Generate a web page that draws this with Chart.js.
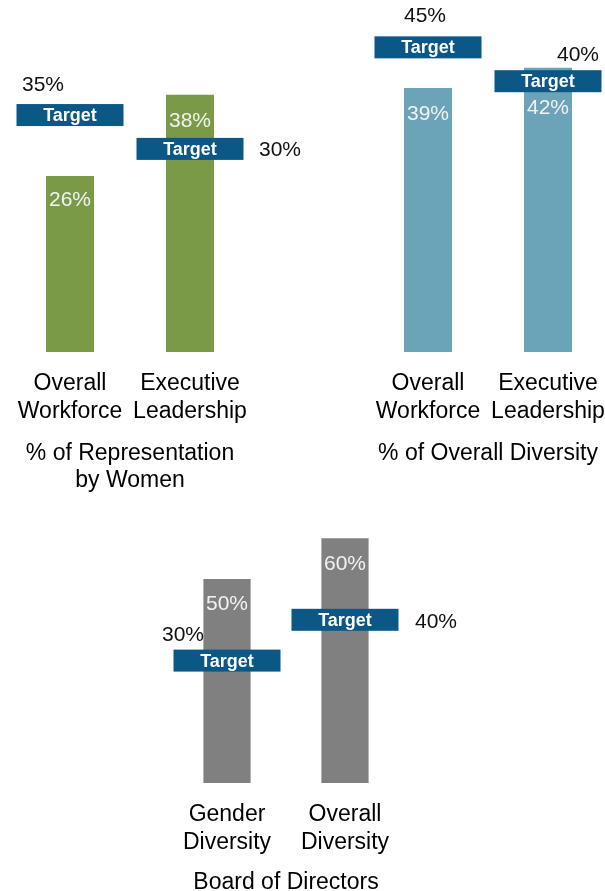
<!DOCTYPE html>
<html>
<head>
<meta charset="utf-8">
<script src="https://cdn.jsdelivr.net/npm/chart.js@4.4.1/dist/chart.umd.min.js"></script>
<style>
  html, body { margin: 0; padding: 0; background: #fff; overflow: hidden; }
  #page { position: relative; width: 605px; height: 891px; overflow: hidden; }
  canvas { position: absolute; }
</style>
</head>
<body>
<div id="page">
  <canvas id="womenChart" width="340" height="500" style="left:-30px;top:0;width:340px;height:500px"></canvas>
  <canvas id="diversityChart" width="338" height="500" style="left:300px;top:0;width:338px;height:500px"></canvas>
  <canvas id="boardChart" width="350" height="410" style="left:130px;top:490px;width:350px;height:410px"></canvas>
</div>
<script>
// % of representation by women
const womenLabels = [['Overall', 'Workforce'], ['Executive', 'Leadership']];
const womenValues = [26, 38];
const womenTargets = [35, 30];
const womenTitle = ['% of Representation', 'by Women'];

// % of overall diversity
const diversityLabels = [['Overall', 'Workforce'], ['Executive', 'Leadership']];
const diversityValues = [39, 42];
const diversityTargets = [45, 40];
const diversityTitle = '% of Overall Diversity';

// board of directors
const boardLabels = [['Gender', 'Diversity'], ['Overall', 'Diversity']];
const boardValues = [50, 60];
const boardTargets = [30, 40];
const boardTitle = 'Board of Directors';

const FONT = '"Liberation Sans", Arial, sans-serif';

// draws the % inside each bar and the "Target" tags with their values
const targetMarks = {
  id: 'targetMarks',
  afterDatasetsDraw(chart, args, opts) {
    const ctx = chart.ctx;
    const xs = chart.scales.x;
    const ys = chart.scales.y;
    const meta = chart.getDatasetMeta(0);
    const values = chart.data.datasets[0].data;

    ctx.save();
    ctx.textAlign = 'center';
    ctx.textBaseline = 'middle';

    ctx.font = `21px ${FONT}`;
    ctx.fillStyle = '#f2f2f2';
    meta.data.forEach((bar, i) => {
      ctx.fillText(`${values[i]}%`, bar.x, bar.y + opts.valueOffsets[i]);
    });

    opts.targets.forEach((t, i) => {
      const cx = xs.getPixelForValue(i);
      const cy = ys.getPixelForValue(t);
      ctx.fillStyle = '#0b5786';
      ctx.fillRect(cx - 53.5, cy - 11, 107, 22);

      ctx.fillStyle = '#ffffff';
      ctx.font = `bold 18px ${FONT}`;
      ctx.fillText('Target', cx, cy + 1);

      const off = opts.labelOffsets[i];
      ctx.fillStyle = '#111111';
      ctx.font = `21px ${FONT}`;
      ctx.fillText(`${t}%`, cx + off[0], cy + off[1]);
    });
    ctx.restore();
  }
};

function makeChart(id, labels, values, targets, title, color, cfg) {
  const canvas = document.getElementById(id);
  if (!canvas) {
    console.error('Canvas element not found', id);
    return null;
  }
  return new Chart(canvas, {
    type: 'bar',
    data: {
      labels: labels,
      datasets: [{
        data: values,
        backgroundColor: color,
        barPercentage: 0.4,
        categoryPercentage: 1
      }]
    },
    options: {
      responsive: false,
      animation: false,
      devicePixelRatio: 1,
      layout: { padding: cfg.padding },
      plugins: {
        legend: { display: false },
        tooltip: { enabled: false },
        targetMarks: {
          targets: targets,
          labelOffsets: cfg.labelOffsets,
          valueOffsets: cfg.valueOffsets
        }
      },
      scales: {
        x: {
          grid: { display: false, drawTicks: false },
          border: { display: false },
          ticks: {
            color: '#000',
            font: { family: FONT, size: 23, lineHeight: 1.196 },
            padding: 18,
            maxRotation: 0,
            autoSkip: false
          },
          title: {
            display: true,
            text: title,
            color: '#000',
            font: { family: FONT, size: 23, lineHeight: 1.174 },
            padding: { top: 0, bottom: cfg.titlePad }
          },
          afterFit: (scale) => { scale.height = cfg.axisHeight; }
        },
        y: { display: false, min: 0, max: cfg.yMax }
      }
    },
    plugins: [targetMarks]
  });
}

makeChart('womenChart', womenLabels, womenValues, womenTargets, womenTitle, '#7a9a48', {
  padding: { top: 13.5, left: 40, right: 60, bottom: 0 },
  yMax: 50,
  axisHeight: 148,
  titlePad: 5.5,
  labelOffsets: [[-27, -30], [90, 1]],
  valueOffsets: [24, 26]
});

makeChart('diversityChart', diversityLabels, diversityValues, diversityTargets, diversityTitle, '#6ba3b8', {
  padding: { top: 13.5, left: 68, right: 30, bottom: 0 },
  yMax: 50,
  axisHeight: 148,
  titlePad: 32.5,
  labelOffsets: [[-3, -31], [30, -26]],
  valueOffsets: [26, 41]
});

makeChart('boardChart', boardLabels, boardValues, boardTargets, boardTitle, '#808080', {
  padding: { top: 7.4, left: 38, right: 76, bottom: 0 },
  yMax: 70,
  axisHeight: 117,
  titlePad: 4,
  labelOffsets: [[-44, -25], [91, 2]],
  valueOffsets: [25, 26]
});
</script>
</body>
</html>
